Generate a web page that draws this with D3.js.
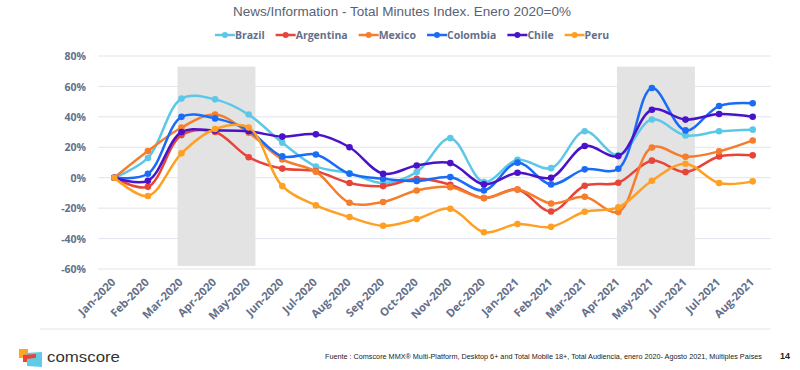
<!DOCTYPE html>
<html>
<head>
<meta charset="UTF-8"/>
<script src="https://d3js.org/d3.v7.min.js"></script>
<title>News/Information - Total Minutes Index</title>
<style>
body { margin:0; background:#fff; }
text { font-family: "Liberation Sans", Arial, sans-serif; }
.lbl { font-family: "Open Sans", sans-serif; font-weight:700; fill:#64708a; }
</style>
</head>
<body>
<svg id='big' width=800 height=370></svg>
<script>
'use strict';

var months = ['Jan-2020','Feb-2020','Mar-2020','Apr-2020','May-2020','Jun-2020','Jul-2020','Aug-2020',
	'Sep-2020','Oct-2020','Nov-2020','Dec-2020','Jan-2021','Feb-2021','Mar-2021','Apr-2021',
	'May-2021','Jun-2021','Jul-2021','Aug-2021'];

var yTicks = [-60, -40, -20, 0, 20, 40, 60, 80];

var brazil    = [0, 13, 52, 51.5, 41.5, 23, 7.4, 3, -3.5, 3.7, 26, -2.9, 11.8, 6.3, 30.5, 14.7, 38.3, 27.8, 30.5, 31.6];
var argentina = [0, -6, 28, 30, 13.5, 6, 4.3, -3.5, -5.5, -0.7, -4.6, -13.4, -7.7, -22.2, -5.3, -3.3, 11.2, 3.7, 14, 14.7];
var mexico    = [0, 17.5, 33, 41.5, 29.6, 12, 4, -16.5, -16, -8.4, -6.2, -13.4, -7.7, -16.9, -12.5, -22.6, 19.9, 13.8, 17.3, 24.5];
var colombia  = [0, 2.6, 40, 39, 31, 14, 15.3, 2.6, -0.7, -2.2, 0.4, -8.4, 9.9, -4.4, 5.5, 5.9, 59, 31.1, 47.1, 48.9];
var chile     = [0, -2, 30, 31, 30.5, 27, 28.5, 20, 2.6, 8, 9.6, -4.4, 3.3, 0, 20.8, 14.2, 44.7, 38.2, 41.9, 40.1];
var peru      = [0, -12, 16, 32, 33, -5.5, -18.2, -25.9, -31.6, -27.2, -20.4, -35.8, -30.5, -32.3, -22.4, -19.5, -2, 9.2, -3.5, -2.4];

var seriesNames  = ['Brazil', 'Argentina', 'Mexico', 'Colombia', 'Chile', 'Peru'];
var seriesValues = [brazil, argentina, mexico, colombia, chile, peru];
var seriesColors = ['#5cc8e8', '#e8453a', '#f57d2c', '#1a6cf7', '#4a12c9', '#ffa024'];

// shaded periods, in month index units
var shadeFrom = [1.88, 14.96];
var shadeTo   = [4.2, 17.28];

var svg = d3.select('#big');

var x = d3.scaleLinear().domain([0, months.length - 1]).range([114.3, 752.7]);
var y = d3.scaleLinear().domain([-60, 80]).range([269, 56]);

// title
svg.append('text')
	.attr('x', 402).attr('y', 16)
	.attr('text-anchor', 'middle')
	.attr('font-size', 13.5)
	.attr('fill', '#596275')
	.text('News/Information - Total Minutes Index. Enero 2020=0%');

// gridlines
svg.selectAll('.grid')
	.data(yTicks)
	.enter()
	.append('line')
	.attr('x1', 98).attr('x2', 771)
	.attr('y1', function(d){ return y(d); })
	.attr('y2', function(d){ return y(d); })
	.attr('stroke', '#e1e4ec')
	.attr('stroke-width', 1);

// shaded periods
svg.selectAll('.shade')
	.data(shadeFrom)
	.enter()
	.append('rect')
	.attr('x', function(d){ return x(d); })
	.attr('width', function(d, i){ return x(shadeTo[i]) - x(d); })
	.attr('y', y(73))
	.attr('height', y(-58) - y(73))
	.attr('fill', '#e3e3e3');

// y axis labels
var yAxis = d3.axisLeft(y).tickValues(yTicks).tickFormat(function(d){ return d + '%'; }).tickSize(0).tickPadding(0);
var gy = svg.append('g').attr('transform', 'translate(86,0)').call(yAxis);
gy.select('.domain').remove();
gy.selectAll('text').attr('class', 'lbl').attr('font-size', 10.5).attr('dy', '0.35em');

// x axis labels
svg.selectAll('.xl')
	.data(months)
	.enter()
	.append('text')
	.attr('class', 'lbl')
	.attr('font-size', 11.2)
	.attr('text-anchor', 'end')
	.attr('transform', function(d, i){ return 'translate(' + (x(i) + 2) + ',283) rotate(-45)'; })
	.text(function(d){ return d; });

// bottom border of plot area
svg.append('line')
	.attr('x1', 40).attr('x2', 770)
	.attr('y1', 329).attr('y2', 329)
	.attr('stroke', '#e3e3e3');

// lines
var line = d3.line()
	.x(function(d, i){ return x(i); })
	.y(function(d){ return y(d); })
	.curve(d3.curveCatmullRom.alpha(0.5));

for (var s = 0; s < seriesNames.length; s++) {
	var g = svg.append('g').attr('class', 'series');
	g.append('path')
		.datum(seriesValues[s])
		.attr('d', line)
		.attr('fill', 'none')
		.attr('stroke', seriesColors[s])
		.attr('stroke-width', 2.5);
	g.selectAll('circle')
		.data(seriesValues[s])
		.enter()
		.append('circle')
		.attr('cx', function(d, i){ return x(i); })
		.attr('cy', function(d){ return y(d); })
		.attr('r', 3.3)
		.attr('fill', seriesColors[s]);
}

// legend
var legend = svg.append('g');
var lx = 0;
for (var i = 0; i < seriesNames.length; i++) {
	var it = legend.append('g');
	it.append('line').attr('x1', 0).attr('x2', 20).attr('y1', 0).attr('y2', 0)
		.attr('stroke', seriesColors[i]).attr('stroke-width', 2.5);
	it.append('circle').attr('cx', 10).attr('cy', 0).attr('r', 3).attr('fill', seriesColors[i]);
	var t = it.append('text').attr('class', 'lbl').attr('x', 20).attr('dy', '0.35em')
		.attr('font-size', 10.5).text(seriesNames[i]);
	var w = 20 + t.node().getComputedTextLength();
	it.attr('transform', 'translate(' + lx + ',0)');
	lx += w + 11;
}
var total = lx - 11;
legend.attr('transform', 'translate(' + (412 - total / 2) + ',35)');

// footer logo
var logo = svg.append('g').attr('transform', 'translate(19,349)');
logo.append('rect').attr('x', 0).attr('y', 0).attr('width', 9).attr('height', 9).attr('fill', '#ffa51e');
logo.append('path').attr('d', 'M6,4 L23,3 L23,11 L6,12 Z').attr('fill', '#5fcbe6');
logo.append('path').attr('d', 'M4,6 L17,5 L17,13 L4,13 Z').attr('fill', '#ef4136');
logo.append('path').attr('d', 'M8,10 L23,8 L23,18 L8,17 Z').attr('fill', '#5fcbe6');
svg.append('text')
	.attr('x', 47).attr('y', 362)
	.attr('font-size', 15)
	.attr('fill', '#333')
	.attr('textLength', 73)
	.attr('lengthAdjust', 'spacingAndGlyphs')
	.text('comscore');

svg.append('text')
	.attr('x', 325).attr('y', 359)
	.attr('font-size', 7.2)
	.attr('fill', '#222')
	.attr('textLength', 437)
	.attr('lengthAdjust', 'spacingAndGlyphs')
	.text('Fuente : Comscore MMX® Multi-Platform, Desktop 6+ and Total Mobile 18+, Total Audiencia, enero 2020- Agosto 2021, Múltiples Países');

svg.append('text')
	.attr('x', 780).attr('y', 359)
	.attr('font-size', 9)
	.attr('font-weight', 'bold')
	.attr('fill', '#222')
	.text('14');
</script>
</body>
</html>
